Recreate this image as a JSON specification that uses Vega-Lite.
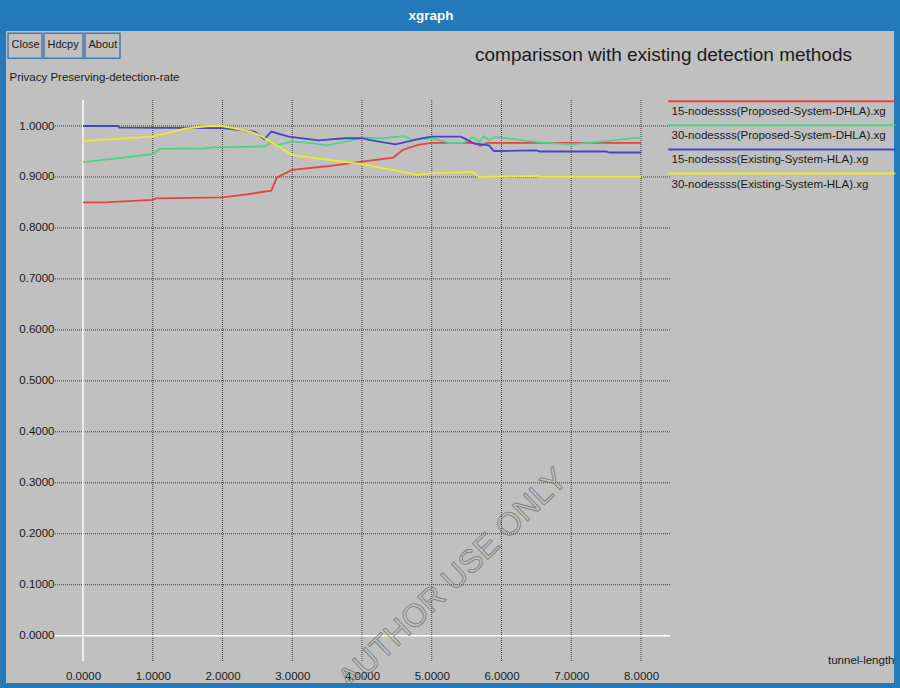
{
  "$schema": "https://vega.github.io/schema/vega-lite/v6.json",
  "width": 888,
  "height": 652,
  "autosize": {"type": "none"},
  "padding": {"left": 6, "top": 31, "right": 6, "bottom": 5},
  "background": "#2479bb",
  "view": {"fill": "#c0c0c0", "stroke": null},
  "title": {"text": "xgraph", "anchor": "middle", "frame": "group", "color": "#ffffff", "font": "Liberation Sans", "fontSize": 13.5, "fontWeight": "bold", "baseline": "middle", "offset": 2, "dx": -19},
  "datasets": {
    "ygrid": [{"v": 0.1}, {"v": 0.2}, {"v": 0.3}, {"v": 0.4}, {"v": 0.5}, {"v": 0.6}, {"v": 0.7}, {"v": 0.8}, {"v": 0.9}, {"v": 1.0}],
    "xgrid": [{"v": 1}, {"v": 2}, {"v": 3}, {"v": 4}, {"v": 5}, {"v": 6}, {"v": 7}, {"v": 8}],
    "series": [
      {"s": "15-nodessss(Proposed-System-DHLA).xg", "x": 0, "y": 0.850},
      {"s": "15-nodessss(Proposed-System-DHLA).xg", "x": 0.3, "y": 0.850},
      {"s": "15-nodessss(Proposed-System-DHLA).xg", "x": 1.0, "y": 0.855},
      {"s": "15-nodessss(Proposed-System-DHLA).xg", "x": 1.05, "y": 0.858},
      {"s": "15-nodessss(Proposed-System-DHLA).xg", "x": 2.0, "y": 0.860},
      {"s": "15-nodessss(Proposed-System-DHLA).xg", "x": 2.35, "y": 0.866},
      {"s": "15-nodessss(Proposed-System-DHLA).xg", "x": 2.7, "y": 0.873},
      {"s": "15-nodessss(Proposed-System-DHLA).xg", "x": 2.78, "y": 0.899},
      {"s": "15-nodessss(Proposed-System-DHLA).xg", "x": 3.0, "y": 0.914},
      {"s": "15-nodessss(Proposed-System-DHLA).xg", "x": 3.5, "y": 0.921},
      {"s": "15-nodessss(Proposed-System-DHLA).xg", "x": 4.0, "y": 0.930},
      {"s": "15-nodessss(Proposed-System-DHLA).xg", "x": 4.45, "y": 0.938},
      {"s": "15-nodessss(Proposed-System-DHLA).xg", "x": 4.58, "y": 0.953},
      {"s": "15-nodessss(Proposed-System-DHLA).xg", "x": 4.8, "y": 0.963},
      {"s": "15-nodessss(Proposed-System-DHLA).xg", "x": 5.0, "y": 0.967},
      {"s": "15-nodessss(Proposed-System-DHLA).xg", "x": 5.6, "y": 0.967},
      {"s": "15-nodessss(Proposed-System-DHLA).xg", "x": 5.7, "y": 0.961},
      {"s": "15-nodessss(Proposed-System-DHLA).xg", "x": 5.8, "y": 0.967},
      {"s": "15-nodessss(Proposed-System-DHLA).xg", "x": 8.0, "y": 0.967},
      {"s": "30-nodessss(Proposed-System-DHLA).xg", "x": 0, "y": 0.929},
      {"s": "30-nodessss(Proposed-System-DHLA).xg", "x": 1.0, "y": 0.945},
      {"s": "30-nodessss(Proposed-System-DHLA).xg", "x": 1.1, "y": 0.955},
      {"s": "30-nodessss(Proposed-System-DHLA).xg", "x": 1.75, "y": 0.956},
      {"s": "30-nodessss(Proposed-System-DHLA).xg", "x": 1.85, "y": 0.958},
      {"s": "30-nodessss(Proposed-System-DHLA).xg", "x": 2.6, "y": 0.960},
      {"s": "30-nodessss(Proposed-System-DHLA).xg", "x": 2.7, "y": 0.968},
      {"s": "30-nodessss(Proposed-System-DHLA).xg", "x": 2.78, "y": 0.962},
      {"s": "30-nodessss(Proposed-System-DHLA).xg", "x": 3.0, "y": 0.970},
      {"s": "30-nodessss(Proposed-System-DHLA).xg", "x": 3.3, "y": 0.966},
      {"s": "30-nodessss(Proposed-System-DHLA).xg", "x": 3.5, "y": 0.962},
      {"s": "30-nodessss(Proposed-System-DHLA).xg", "x": 3.85, "y": 0.972},
      {"s": "30-nodessss(Proposed-System-DHLA).xg", "x": 4.0, "y": 0.977},
      {"s": "30-nodessss(Proposed-System-DHLA).xg", "x": 4.3, "y": 0.976},
      {"s": "30-nodessss(Proposed-System-DHLA).xg", "x": 4.6, "y": 0.980},
      {"s": "30-nodessss(Proposed-System-DHLA).xg", "x": 4.73, "y": 0.973},
      {"s": "30-nodessss(Proposed-System-DHLA).xg", "x": 5.0, "y": 0.976},
      {"s": "30-nodessss(Proposed-System-DHLA).xg", "x": 5.25, "y": 0.967},
      {"s": "30-nodessss(Proposed-System-DHLA).xg", "x": 5.45, "y": 0.967},
      {"s": "30-nodessss(Proposed-System-DHLA).xg", "x": 5.6, "y": 0.978},
      {"s": "30-nodessss(Proposed-System-DHLA).xg", "x": 5.68, "y": 0.969},
      {"s": "30-nodessss(Proposed-System-DHLA).xg", "x": 5.75, "y": 0.980},
      {"s": "30-nodessss(Proposed-System-DHLA).xg", "x": 5.82, "y": 0.972},
      {"s": "30-nodessss(Proposed-System-DHLA).xg", "x": 5.9, "y": 0.978},
      {"s": "30-nodessss(Proposed-System-DHLA).xg", "x": 6.0, "y": 0.977},
      {"s": "30-nodessss(Proposed-System-DHLA).xg", "x": 6.55, "y": 0.968},
      {"s": "30-nodessss(Proposed-System-DHLA).xg", "x": 7.0, "y": 0.964},
      {"s": "30-nodessss(Proposed-System-DHLA).xg", "x": 7.4, "y": 0.969},
      {"s": "30-nodessss(Proposed-System-DHLA).xg", "x": 7.95, "y": 0.977},
      {"s": "30-nodessss(Proposed-System-DHLA).xg", "x": 8.0, "y": 0.975},
      {"s": "15-nodessss(Existing-System-HLA).xg", "x": 0, "y": 1.0},
      {"s": "15-nodessss(Existing-System-HLA).xg", "x": 0.5, "y": 1.0},
      {"s": "15-nodessss(Existing-System-HLA).xg", "x": 0.52, "y": 0.997},
      {"s": "15-nodessss(Existing-System-HLA).xg", "x": 2.0, "y": 0.996},
      {"s": "15-nodessss(Existing-System-HLA).xg", "x": 2.46, "y": 0.989},
      {"s": "15-nodessss(Existing-System-HLA).xg", "x": 2.6, "y": 0.974},
      {"s": "15-nodessss(Existing-System-HLA).xg", "x": 2.7, "y": 0.989},
      {"s": "15-nodessss(Existing-System-HLA).xg", "x": 2.95, "y": 0.979},
      {"s": "15-nodessss(Existing-System-HLA).xg", "x": 3.38, "y": 0.972},
      {"s": "15-nodessss(Existing-System-HLA).xg", "x": 3.75, "y": 0.976},
      {"s": "15-nodessss(Existing-System-HLA).xg", "x": 4.0, "y": 0.976},
      {"s": "15-nodessss(Existing-System-HLA).xg", "x": 4.14, "y": 0.972},
      {"s": "15-nodessss(Existing-System-HLA).xg", "x": 4.48, "y": 0.964},
      {"s": "15-nodessss(Existing-System-HLA).xg", "x": 4.87, "y": 0.976},
      {"s": "15-nodessss(Existing-System-HLA).xg", "x": 5.0, "y": 0.979},
      {"s": "15-nodessss(Existing-System-HLA).xg", "x": 5.42, "y": 0.979},
      {"s": "15-nodessss(Existing-System-HLA).xg", "x": 5.6, "y": 0.966},
      {"s": "15-nodessss(Existing-System-HLA).xg", "x": 5.82, "y": 0.962},
      {"s": "15-nodessss(Existing-System-HLA).xg", "x": 5.89, "y": 0.951},
      {"s": "15-nodessss(Existing-System-HLA).xg", "x": 6.5, "y": 0.952},
      {"s": "15-nodessss(Existing-System-HLA).xg", "x": 6.55, "y": 0.950},
      {"s": "15-nodessss(Existing-System-HLA).xg", "x": 7.5, "y": 0.950},
      {"s": "15-nodessss(Existing-System-HLA).xg", "x": 7.55, "y": 0.948},
      {"s": "15-nodessss(Existing-System-HLA).xg", "x": 8.0, "y": 0.948},
      {"s": "30-nodessss(Existing-System-HLA).xg", "x": 0, "y": 0.971},
      {"s": "30-nodessss(Existing-System-HLA).xg", "x": 1.0, "y": 0.979},
      {"s": "30-nodessss(Existing-System-HLA).xg", "x": 1.46, "y": 0.995},
      {"s": "30-nodessss(Existing-System-HLA).xg", "x": 1.8, "y": 1.0},
      {"s": "30-nodessss(Existing-System-HLA).xg", "x": 2.0, "y": 1.0},
      {"s": "30-nodessss(Existing-System-HLA).xg", "x": 2.4, "y": 0.989},
      {"s": "30-nodessss(Existing-System-HLA).xg", "x": 2.56, "y": 0.980},
      {"s": "30-nodessss(Existing-System-HLA).xg", "x": 3.0, "y": 0.943},
      {"s": "30-nodessss(Existing-System-HLA).xg", "x": 4.0, "y": 0.925},
      {"s": "30-nodessss(Existing-System-HLA).xg", "x": 4.8, "y": 0.904},
      {"s": "30-nodessss(Existing-System-HLA).xg", "x": 5.0, "y": 0.907},
      {"s": "30-nodessss(Existing-System-HLA).xg", "x": 5.59, "y": 0.910},
      {"s": "30-nodessss(Existing-System-HLA).xg", "x": 5.68, "y": 0.900},
      {"s": "30-nodessss(Existing-System-HLA).xg", "x": 6.5, "y": 0.902},
      {"s": "30-nodessss(Existing-System-HLA).xg", "x": 6.55, "y": 0.900},
      {"s": "30-nodessss(Existing-System-HLA).xg", "x": 8.0, "y": 0.900}
    ]
  },
  "layer": [
    {
      "data": {"name": "ygrid"},
      "mark": {"type": "rule", "color": "#3c3c3c", "strokeDash": [1, 1], "strokeWidth": 1},
      "encoding": {
        "y": {"field": "v", "type": "quantitative", "scale": {"domain": [-0.0928, 1.18639], "nice": false, "zero": false},
          "axis": {"orient": "right", "title": "comparisson with existing detection methods", "labels": false, "ticks": false, "domain": false, "grid": false, "titleAngle": 0, "titleX": -231, "titleY": 23, "titleAlign": "center", "titleBaseline": "middle", "titleFont": "Liberation Sans", "titleFontSize": 19, "titleFontWeight": "normal", "titleColor": "#1a1a1a"}},
        "x": {"datum": -0.40143, "type": "quantitative", "scale": {"domain": [-1.10394, 11.62724], "nice": false, "zero": false}, "axis": null},
        "x2": {"datum": 8.41577}
      }
    },
    {
      "data": {"name": "xgrid"},
      "mark": {"type": "rule", "color": "#3c3c3c", "strokeDash": [1, 1], "strokeWidth": 1},
      "encoding": {
        "x": {"field": "v", "type": "quantitative", "axis": null},
        "y": {"datum": 1.05101, "type": "quantitative", "axis": null},
        "y2": {"datum": -0.04964}
      }
    },
    {
      "data": {"values": [{"v": 0}]},
      "mark": {"type": "rule", "color": "#ffffff", "strokeWidth": 1.6},
      "encoding": {
        "y": {"field": "v", "type": "quantitative", "axis": null},
        "x": {"datum": -0.40143, "type": "quantitative", "axis": null},
        "x2": {"datum": 8.41577}
      }
    },
    {
      "data": {"values": [{"v": 0}]},
      "mark": {"type": "rule", "color": "#ffffff", "strokeWidth": 1.4},
      "encoding": {
        "x": {"field": "v", "type": "quantitative", "axis": null},
        "y": {"datum": 1.05101, "type": "quantitative", "axis": null},
        "y2": {"datum": -0.04964}
      }
    },
    {
      "data": {"values": [{"wm": "AUTHOR USE ONLY"}]},
      "mark": {"type": "text", "font": "Liberation Sans", "fontSize": 32, "angle": -44, "fillOpacity": 0, "stroke": "#7a7a7a", "strokeWidth": 0.8, "align": "center", "baseline": "middle", "clip": true},
      "encoding": {
        "text": {"field": "wm"},
        "x": {"datum": 5.3, "type": "quantitative", "axis": null},
        "y": {"datum": 0.11, "type": "quantitative", "axis": null}
      }
    },
    {
      "data": {"name": "series"},
      "mark": {"type": "line", "strokeWidth": 1.8},
      "encoding": {
        "x": {"field": "x", "type": "quantitative", "scale": {"domain": [-1.10394, 11.62724], "nice": false, "zero": false},
          "axis": {"values": [0, 1, 2, 3, 4, 5, 6, 7, 8], "format": ".4f", "title": "tunnel-length", "ticks": false, "domain": false, "grid": false, "offset": -7, "labelPadding": 0, "labelBaseline": "middle", "labelFont": "Liberation Sans", "labelFontSize": 11.5, "labelColor": "#1a1a1a", "labelFlush": false, "labelOverlap": false, "titleX": 888, "titleY": -16, "titleAlign": "right", "titleBaseline": "middle", "titleFont": "Liberation Sans", "titleFontSize": 11.5, "titleFontWeight": "normal", "titleColor": "#1a1a1a"}},
        "y": {"field": "y", "type": "quantitative", "scale": {"domain": [-0.0928, 1.18639], "nice": false, "zero": false},
          "axis": {"orient": "left", "values": [0, 0.1, 0.2, 0.3, 0.4, 0.5, 0.6, 0.7, 0.8, 0.9, 1.0], "format": ".4f", "title": "Privacy Preserving-detection-rate", "ticks": false, "domain": false, "grid": false, "offset": -50, "labelPadding": 2, "labelFont": "Liberation Sans", "labelFontSize": 11.5, "labelColor": "#1a1a1a", "labelFlush": false, "labelOverlap": false, "titleAngle": 0, "titleX": -47, "titleY": 46, "titleAlign": "left", "titleBaseline": "middle", "titleFont": "Liberation Sans", "titleFontSize": 11.5, "titleFontWeight": "normal", "titleColor": "#1a1a1a"}},
        "color": {"field": "s", "type": "nominal",
          "scale": {"domain": ["15-nodessss(Proposed-System-DHLA).xg", "30-nodessss(Proposed-System-DHLA).xg", "15-nodessss(Existing-System-HLA).xg", "30-nodessss(Existing-System-HLA).xg"], "range": ["#e8423f", "#4fd38a", "#4646c4", "#ecec2a"]},
          "legend": {"orient": "none", "legendX": 654, "legendY": 75.5, "title": null, "padding": 0, "symbolType": "M2.5,-11H229.5", "symbolSize": 4, "symbolStrokeWidth": 2, "labelFont": "Liberation Sans", "labelFontSize": 11.5, "labelColor": "#1a1a1a", "labelOffset": 0, "labelLimit": 0, "rowPadding": 2.1}}
      }
    },
    {
      "data": {"values": [{"b": "Close"}, {"b": "Hdcpy"}, {"b": "About"}]},
      "mark": {"type": "point", "opacity": 0},
      "encoding": {
        "shape": {"field": "b", "type": "nominal",
          "scale": {"domain": ["Close", "Hdcpy", "About"], "range": ["M-7.25,-12H26.75V13H-7.25Z", "M-7.25,-12H31.75V13H-7.25Z", "M-7.25,-12H27.75V13H-7.25Z"]},
          "legend": {"orient": "none", "direction": "horizontal", "legendX": 3.75, "legendY": 8.5, "title": null, "padding": 0, "symbolSize": 4, "labelFont": "Liberation Sans", "labelFontSize": 11, "labelColor": "#1a1a1a", "labelOffset": -9.25, "columnPadding": -5.8,
            "encode": {"symbols": {"update": {"opacity": {"value": 1}, "stroke": {"value": "#3a3a3a"}, "fill": {"value": "transparent"}, "strokeWidth": {"value": 1.5}}}}}}
      }
    }
  ],
  "resolve": {"axis": {"x": "independent", "y": "independent"}},
  "config": {"view": {"fill": "#c0c0c0", "stroke": null}}
}
